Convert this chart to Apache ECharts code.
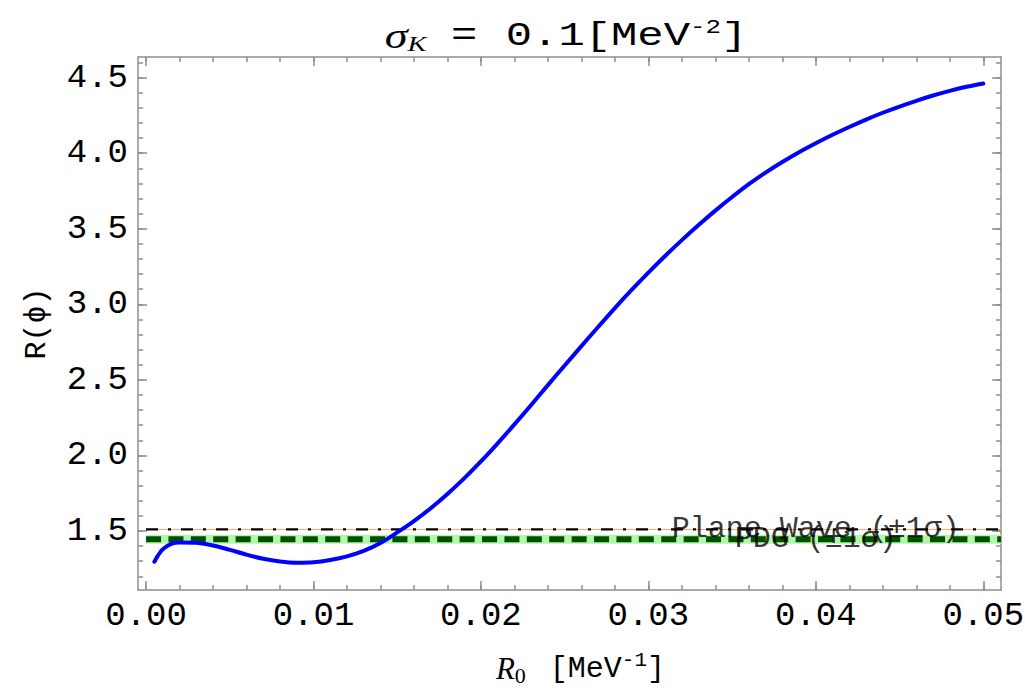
<!DOCTYPE html>
<html>
<head>
<meta charset="utf-8">
<script src="https://cdn.jsdelivr.net/npm/echarts@6/dist/echarts.min.js"></script>
<style>
  html, body { margin: 0; padding: 0; background: #ffffff; }
  #chart { width: 1025px; height: 695px; }
</style>
</head>
<body>
<div id="chart"></div>
<script>
// Ratio R(phi) versus source size R0, for sigma_K = 0.1 MeV^-2
const r0 = [0.0005, 0.0007, 0.0010, 0.0015, 0.0020, 0.0030, 0.0040, 0.0050, 0.0060, 0.0070,
            0.0080, 0.0090, 0.0100, 0.0110, 0.0120, 0.0130, 0.0140, 0.0150, 0.0160, 0.0170,
            0.0180, 0.0190, 0.0200, 0.0210, 0.0220, 0.0230, 0.0240, 0.0250, 0.0260, 0.0270,
            0.0280, 0.0290, 0.0300, 0.0310, 0.0320, 0.0330, 0.0340, 0.0350, 0.0360, 0.0370,
            0.0380, 0.0390, 0.0400, 0.0410, 0.0420, 0.0430, 0.0440, 0.0450, 0.0460, 0.0470,
            0.0480, 0.0490, 0.0500];
const ratio = [1.296, 1.335, 1.378, 1.414, 1.424, 1.421, 1.404, 1.375, 1.343, 1.316,
               1.298, 1.290, 1.293, 1.308, 1.332, 1.368, 1.420, 1.490, 1.565, 1.650,
               1.745, 1.848, 1.960, 2.080, 2.205, 2.334, 2.465, 2.595, 2.723, 2.850,
               2.975, 3.095, 3.210, 3.320, 3.425, 3.525, 3.620, 3.710, 3.795, 3.872,
               3.942, 4.007, 4.066, 4.122, 4.174, 4.223, 4.268, 4.309, 4.347, 4.382,
               4.413, 4.440, 4.462];

// Reference values with their 1-sigma half widths
const refNames = ['Plane Wave (±1σ)', 'PDG (±1σ)'];
const refValues = [1.51, 1.445];
const refErrors = [0.002, 0.03];
const refStart = 0;
const refLabelX = 0.04;

// Axis ranges and ticks
const xRange = [-0.00048, 0.05106];
const yRange = [1.109, 4.637];
const xMajor = [0, 0.01, 0.02, 0.03, 0.04, 0.05];
const xTickLabels = ['0.00', '0.01', '0.02', '0.03', '0.04', '0.05'];
const yMajor = [1.5, 2.0, 2.5, 3.0, 3.5, 4.0, 4.5];
const yTickLabels = ['1.5', '2.0', '2.5', '3.0', '3.5', '4.0', '4.5'];
const xMinorStep = 0.002;
const yMinorStep = 0.1;

function minorTicks(range, step) {
  const out = [];
  for (let i = Math.ceil(range[0] / step); i * step <= range[1] + 1e-12; i++) {
    out.push(+(i * step).toFixed(6));
  }
  return out;
}
const xMinor = minorTicks(xRange, xMinorStep);
const yMinor = minorTicks(yRange, yMinorStep);

const MONO = 'Liberation Mono';
const SERIF = 'Liberation Serif';
const FRAME = '#8f8f8f';

function lineStyleFrame() { return { color: FRAME, width: 1.5 }; }

function makeX(position, ticks, len, withLine, withLabels) {
  const ax = {
    type: 'value', position: position, min: xRange[0], max: xRange[1],
    axisLine: { show: withLine, onZero: false, lineStyle: lineStyleFrame() },
    axisTick: { show: true, inside: true, length: len, customValues: ticks, lineStyle: lineStyleFrame() },
    axisLabel: { show: false },
    splitLine: { show: false }
  };
  if (withLabels) {
    ax.axisLabel = {
      show: true, customValues: xMajor, margin: 9,
      fontFamily: MONO, fontSize: 34, color: '#000',
      formatter: v => xTickLabels[xMajor.findIndex(t => Math.abs(t - v) < 1e-9)]
    };
    ax.name = '{it|R}{sub|0}{n| [MeV}{sup|-1}{n|]}';
    ax.nameLocation = 'middle';
    ax.nameGap = 60;
    ax.nameTextStyle = {
      padding: [0, 0, 0, 22],
      rich: {
        it: { fontFamily: SERIF, fontStyle: 'italic', fontSize: 31, color: '#000' },
        sub: { fontFamily: SERIF, fontSize: 22, color: '#000', padding: [14, 6, 0, 0] },
        n: { fontFamily: MONO, fontSize: 30, color: '#000' },
        sup: { fontFamily: MONO, fontSize: 21, color: '#000', padding: [0, 0, 16, 0] }
      }
    };
  }
  return ax;
}

function makeY(position, ticks, len, withLine, withLabels) {
  const ax = {
    type: 'value', position: position, min: yRange[0], max: yRange[1],
    axisLine: { show: withLine, onZero: false, lineStyle: lineStyleFrame() },
    axisTick: { show: true, inside: true, length: len, customValues: ticks, lineStyle: lineStyleFrame() },
    axisLabel: { show: false },
    splitLine: { show: false }
  };
  if (withLabels) {
    ax.axisLabel = {
      show: true, customValues: yMajor, margin: 10,
      fontFamily: MONO, fontSize: 34, color: '#000',
      formatter: v => yTickLabels[yMajor.findIndex(t => Math.abs(t - v) < 1e-9)]
    };
    ax.name = 'R(ϕ)';
    ax.nameLocation = 'middle';
    ax.nameGap = 86;
    ax.nameRotate = 90;
    ax.nameTextStyle = { fontFamily: MONO, fontSize: 30, color: '#000' };
  }
  return ax;
}

const chart = echarts.init(document.getElementById('chart'), null, { renderer: 'svg' });

const bandData = refValues.map((v, i) => [refStart, xRange[1], v - refErrors[i], v + refErrors[i]]);
const lineTo = xRange[1];

const option = {
  animation: false,
  backgroundColor: '#ffffff',
  graphic: [{
    // plot title, drawn slightly widened like the typeset original
    type: 'text', x: 566, y: 36, scaleX: 1.29, scaleY: 1, silent: true,
    style: {
      text: '{it|σ}{sub|K}{eq|=}{n|0.1[MeV}{sup|-2}{n|]}',
      align: 'center', verticalAlign: 'middle',
      rich: {
        it: { fontFamily: SERIF, fontStyle: 'italic', fontSize: 36, fill: '#000' },
        sub: { fontFamily: SERIF, fontStyle: 'italic', fontSize: 22, fill: '#000', padding: [14, 0, 0, 0] },
        eq: { fontFamily: MONO, fontSize: 34, fill: '#000', padding: [0, 22, 0, 19] },
        n: { fontFamily: MONO, fontSize: 34, fill: '#000' },
        sup: { fontFamily: MONO, fontSize: 20, fill: '#000', padding: [0, 0, 16, 0] }
      }
    }
  }],
  grid: { left: 138, right: 24, top: 57, bottom: 105, containLabel: false, outerBoundsMode: 'none' },
  xAxis: [
    makeX('bottom', xMajor, 9, true, true),
    makeX('bottom', xMinor, 5, false, false),
    makeX('top', xMajor, 9, true, false),
    makeX('top', xMinor, 5, false, false)
  ],
  yAxis: [
    makeY('left', yMajor, 9, true, true),
    makeY('left', yMinor, 5, false, false),
    makeY('right', yMajor, 9, true, false),
    makeY('right', yMinor, 5, false, false)
  ],
  series: [
    {
      // PDG 1-sigma band
      type: 'custom', xAxisIndex: 0, yAxisIndex: 0, z: 1, silent: true,
      data: [bandData[1]],
      renderItem: function (params, api) {
        const a = api.coord([api.value(0), api.value(3)]);
        const b = api.coord([api.value(1), api.value(2)]);
        const rect = echarts.graphic.clipRectByRect(
          { x: a[0], y: a[1], width: b[0] - a[0], height: b[1] - a[1] },
          { x: params.coordSys.x, y: params.coordSys.y, width: params.coordSys.width, height: params.coordSys.height }
        );
        return rect && { type: 'rect', shape: rect, style: { fill: '#b3f5aa' } };
      }
    },
    {
      // plane-wave 1-sigma band (very narrow)
      type: 'line', xAxisIndex: 0, yAxisIndex: 0, z: 2, silent: true, symbol: 'none',
      data: [[refStart, refValues[0]], [lineTo, refValues[0]]],
      lineStyle: { color: '#f3a566', width: 1 }
    },
    {
      type: 'line', name: refNames[0], xAxisIndex: 0, yAxisIndex: 0, z: 3, silent: true, symbol: 'none',
      data: [[refStart, refValues[0]], [lineTo, refValues[0]]],
      lineStyle: { color: '#000000', width: 2.2, type: [12, 10, 3, 10] }
    },
    {
      type: 'line', name: refNames[1], xAxisIndex: 0, yAxisIndex: 0, z: 4, silent: true, symbol: 'none',
      data: [[refStart, refValues[1]], [lineTo, refValues[1]]],
      lineStyle: { color: '#005000', width: 6, type: [15, 7.4] }
    },
    {
      type: 'line', name: 'R(ϕ)', xAxisIndex: 0, yAxisIndex: 0, z: 5, silent: true, symbol: 'none',
      smooth: 0.3,
      data: r0.map((x, i) => [x, ratio[i]]),
      lineStyle: { color: '#0000ff', width: 4, cap: 'round' }
    },
    {
      type: 'scatter', xAxisIndex: 0, yAxisIndex: 0, z: 6, silent: true, symbolSize: 0,
      data: refValues.map((v, i) => ({ value: [refLabelX, v], name: refNames[i] })),
      label: {
        show: true, position: 'inside', formatter: p => p.name,
        fontFamily: MONO, color: '#000',
        fontSize: 30
      }
    }
  ]
};

chart.setOption(option);
</script>
</body>
</html>
